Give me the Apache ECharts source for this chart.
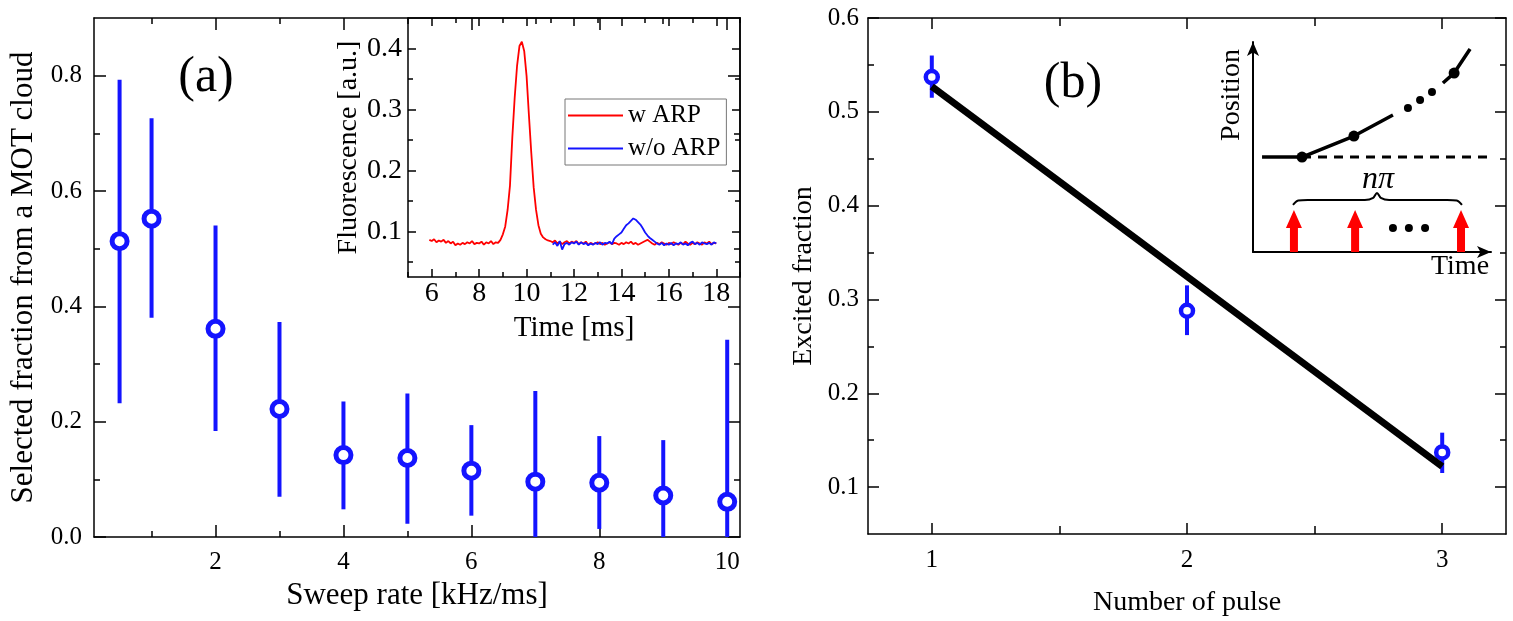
<!DOCTYPE html>
<html>
<head>
<meta charset="utf-8">
<script src="https://cdn.jsdelivr.net/npm/echarts@6/dist/echarts.min.js"></script>
<style>html,body{margin:0;background:#fff}#chart{width:1513px;height:621px}</style>
</head>
<body>
<div id="chart"></div>
<script>
const FONT = "'Liberation Serif', 'DejaVu Serif', serif";
const BLUE = '#1414ff';
const RED = '#ff0000';

// (a) selected fraction vs sweep rate
const sweepRate = [0.5, 1, 2, 3, 4, 5, 6, 7, 8, 9, 10];
const selFrac = [0.513, 0.552, 0.361, 0.222, 0.142, 0.137, 0.115, 0.096, 0.094, 0.072, 0.061];
const selLow = [0.232, 0.380, 0.184, 0.070, 0.048, 0.023, 0.037, 0, 0.014, 0, 0];
const selHigh = [0.793, 0.726, 0.540, 0.373, 0.235, 0.249, 0.194, 0.253, 0.175, 0.168, 0.342];
const sweepTicks = [2, 4, 6, 8, 10];
const sweepMinor = [1, 3, 5, 7, 9];
const fracTicks = [0, 0.2, 0.4, 0.6, 0.8];
const fracMinor = [0.1, 0.3, 0.5, 0.7];

// (a) inset: fluorescence traces, sampled every 0.1 ms
const dt = 0.1;
const wARPStart = 5.9;
const wARP = [
  0.086, 0.084, 0.087, 0.082, 0.085, 0.083, 0.086, 0.081, 0.084, 0.080, 0.083,
  0.077, 0.080, 0.078, 0.081, 0.079, 0.082, 0.080, 0.084, 0.079, 0.081,
  0.080, 0.083, 0.078, 0.082, 0.080, 0.084, 0.079, 0.082, 0.081, 0.086,
  0.095, 0.108, 0.135, 0.175, 0.255, 0.320, 0.372, 0.404, 0.411, 0.396,
  0.355, 0.290, 0.228, 0.172, 0.135, 0.110, 0.096, 0.090, 0.087, 0.085,
  0.084, 0.082, 0.085, 0.080, 0.083, 0.079, 0.082, 0.084, 0.080, 0.083,
  0.081, 0.084, 0.079, 0.082, 0.080, 0.083, 0.078, 0.081, 0.079, 0.080,
  0.082, 0.079, 0.081, 0.078, 0.080, 0.082, 0.079, 0.081, 0.080, 0.078,
  0.081, 0.079, 0.082, 0.080, 0.083, 0.079, 0.081, 0.078, 0.080, 0.082,
  0.084, 0.086, 0.083, 0.080, 0.078, 0.081, 0.079, 0.082, 0.080, 0.078,
  0.081, 0.079, 0.082, 0.080, 0.078, 0.081, 0.079, 0.083, 0.080, 0.078,
  0.081, 0.079, 0.082, 0.080, 0.078, 0.082, 0.080, 0.083, 0.079, 0.081,
  0.080,
];
const woARPStart = 11.1;
const woARP = [
  0.078, 0.082, 0.076, 0.084, 0.070, 0.079, 0.081, 0.078, 0.082,
  0.080, 0.083, 0.078, 0.082, 0.079, 0.081, 0.077, 0.080, 0.078, 0.081,
  0.079, 0.082, 0.078, 0.081, 0.080, 0.083, 0.079, 0.088, 0.092, 0.095,
  0.098, 0.104, 0.110, 0.113, 0.117, 0.121, 0.119, 0.115, 0.111, 0.105,
  0.098, 0.093, 0.089, 0.086, 0.083, 0.080, 0.078, 0.081, 0.077, 0.080,
  0.078, 0.081, 0.077, 0.080, 0.079, 0.082, 0.078, 0.080, 0.077, 0.081,
  0.083, 0.079, 0.081, 0.078, 0.082, 0.080, 0.079, 0.081, 0.078, 0.082,
  0.080,
];
const timeTicks = [6, 8, 10, 12, 14, 16, 18];
const timeMinor = [5, 7, 9, 11, 13, 15, 17, 19];
const fluoTicks = [0.1, 0.2, 0.3, 0.4];
const fluoMinor = [0.05, 0.15, 0.25, 0.35];

// (b) excited fraction vs number of pulses
const pulseN = [1, 2, 3];
const excFrac = [0.537, 0.288, 0.137];
const excLow = [0.515, 0.262, 0.115];
const excHigh = [0.560, 0.315, 0.158];
const fitN = [1, 3];
const fitFrac = [0.527, 0.122];
const pulseTicks = [1, 2, 3];
const pulseMinor = [1.5, 2.5];
const excTicks = [0.1, 0.2, 0.3, 0.4, 0.5, 0.6];
const excMinor = [0.15, 0.25, 0.35, 0.45, 0.55];

// (b) inset sketch, arbitrary units 0..10
const sketchFlat = [[0.38, 4.52], [2.06, 4.52]];
const sketchDash = [[2.06, 4.52], [10.4, 4.52]];
const sketchRise1 = [[2.06, 4.52], [4.24, 5.52], [5.88, 6.52]];
const sketchRise2 = [[7.98, 8.05], [8.45, 8.52], [9.12, 9.67]];
const sketchDots = [[2.06, 4.52], [4.24, 5.52], [8.45, 8.52]];
const sketchGap = [[6.51, 6.86], [7.02, 7.24], [7.52, 7.62]];
const sketchBrace = [[1.68, 2.24], [1.9, 2.45], [2.3, 2.48], [4.7, 2.48], [5.05, 2.58], [5.21, 2.81],
  [5.37, 2.58], [5.72, 2.48], [8.16, 2.48], [8.56, 2.45], [8.78, 2.24]];
const pulseArrowX = [1.72, 4.29, 8.74];
const pulseGap = [[5.88, 1.14], [6.55, 1.14], [7.23, 1.14]];

const chart = echarts.init(document.getElementById('chart'));

// axis box with inward major/minor ticks on all four sides
function boxAxes(dim, grid, min, max, major, minor, o) {
  const sides = dim === 'x' ? ['bottom', 'top'] : ['left', 'right'];
  const stroke = { color: '#000', width: 1.5 };
  const common = { type: 'value', gridIndex: grid, min, max, splitLine: { show: false } };
  const ticks = (vals, len) => ({ show: true, inside: true, length: len, customValues: vals, lineStyle: stroke });
  return [
    {
      ...common, position: sides[0],
      axisLine: { show: true, onZero: false, lineStyle: stroke },
      axisTick: ticks(major, o.majLen),
      axisLabel: { show: true, customValues: major, margin: o.margin, formatter: o.fmt,
        fontFamily: FONT, fontSize: o.size, color: '#000' },
      name: o.name, nameLocation: 'middle', nameGap: o.nameGap, nameRotate: dim === 'y' ? 90 : 0,
      nameTextStyle: { fontFamily: FONT, fontSize: o.nameSize, color: '#000' },
    },
    { ...common, position: sides[0], axisLine: { show: false, onZero: false }, axisTick: ticks(minor, o.minLen), axisLabel: { show: false } },
    { ...common, position: sides[1], axisLine: { show: true, onZero: false, lineStyle: stroke }, axisTick: ticks(major, o.majLen), axisLabel: { show: false } },
    { ...common, position: sides[1], axisLine: { show: false, onZero: false }, axisTick: ticks(minor, o.minLen), axisLabel: { show: false } },
  ];
}

function errBar(w) {
  return (params, api) => {
    const x = api.value(0);
    const a = api.coord([x, api.value(1)]);
    const b = api.coord([x, api.value(2)]);
    return { type: 'line', shape: { x1: a[0], y1: a[1], x2: b[0], y2: b[1] }, style: { stroke: BLUE, lineWidth: w } };
  };
}

const int = (v) => String(v);
const one = (v) => v.toFixed(1);

const sketchAxis = (dim) => ({
  type: 'value', gridIndex: 3, min: 0, max: 10, position: dim === 'x' ? 'bottom' : 'left',
  splitLine: { show: false }, axisTick: { show: false }, axisLabel: { show: false },
  axisLine: { show: true, onZero: false, symbol: ['none', 'arrow'], symbolSize: [9, 14], lineStyle: { color: '#000', width: 2 } },
});

const xAxis = [
  ...boxAxes('x', 0, 0.1, 10.2, sweepTicks, sweepMinor, { majLen: 12, minLen: 6, margin: 13, fmt: int, size: 25, name: 'Sweep rate [kHz/ms]', nameGap: 42, nameSize: 31 }),
  ...boxAxes('x', 1, 5, 19, timeTicks, timeMinor, { majLen: 8, minLen: 5, margin: 3, fmt: int, size: 28, name: 'Time [ms]', nameGap: 37, nameSize: 29 }),
  ...boxAxes('x', 2, 0.75, 3.25, pulseTicks, pulseMinor, { majLen: 11, minLen: 8, margin: 14, fmt: int, size: 25, name: 'Number of pulse', nameGap: 55, nameSize: 28 }),
  sketchAxis('x'),
];
const yAxis = [
  ...boxAxes('y', 0, 0, 0.9, fracTicks, fracMinor, { majLen: 12, minLen: 6, margin: 12, fmt: one, size: 25, name: 'Selected fraction from a MOT cloud', nameGap: 55, nameSize: 31 }),
  ...boxAxes('y', 1, 0.025, 0.45, fluoTicks, fluoMinor, { majLen: 8, minLen: 5, margin: 6, fmt: one, size: 28, name: 'Fluorescence [a.u.]', nameGap: 45, nameSize: 28 }),
  ...boxAxes('y', 2, 0.05, 0.6, excTicks, excMinor, { majLen: 11, minLen: 6, margin: 9, fmt: one, size: 25, name: 'Excited fraction', nameGap: 50, nameSize: 28 }),
  sketchAxis('y'),
];

const sketchLine = (data, extra) => ({
  type: 'line', xAxisIndex: 12, yAxisIndex: 12, data, symbol: 'none', clip: false, silent: true,
  lineStyle: { color: '#000', width: 3.5, ...(extra || {}) },
});
const sketchDot = (data, size) => ({
  type: 'scatter', xAxisIndex: 12, yAxisIndex: 12, symbolSize: size, silent: true,
  itemStyle: { color: '#000', opacity: 1 }, data,
});

chart.setOption({
  animation: false,
  textStyle: { fontFamily: FONT },
  grid: [
    { left: 94, right: 773, top: 18, bottom: 84, outerBoundsMode: 'none' },
    { left: 408, right: 773, top: 18, bottom: 344, show: true, backgroundColor: '#fff', borderWidth: 0, outerBoundsMode: 'none' },
    { left: 868, right: 7, top: 18, bottom: 87, outerBoundsMode: 'none' },
    { left: 1253, right: 22, top: 42, bottom: 369, outerBoundsMode: 'none' },
  ],
  xAxis,
  yAxis,
  legend: {
    data: ['w ARP', 'w/o ARP'],
    orient: 'vertical', left: 565, top: 99,
    icon: 'rect', itemWidth: 55, itemHeight: 2, itemGap: 8,
    padding: [4, 6, 4, 3],
    borderColor: '#777', borderWidth: 1, backgroundColor: '#fff',
    textStyle: { fontFamily: FONT, fontSize: 25, color: '#000' },
  },
  series: [
    { type: 'custom', xAxisIndex: 0, yAxisIndex: 0, clip: true, renderItem: errBar(4),
      data: sweepRate.map((x, i) => [x, selLow[i], selHigh[i]]), encode: { x: 0, y: [1, 2] } },
    { type: 'scatter', xAxisIndex: 0, yAxisIndex: 0, symbol: 'circle', symbolSize: 15,
      itemStyle: { color: '#fff', borderColor: BLUE, borderWidth: 5, opacity: 1 },
      data: sweepRate.map((x, i) => [x, selFrac[i]]) },

    { name: 'w ARP', type: 'line', xAxisIndex: 4, yAxisIndex: 4, symbol: 'none',
      lineStyle: { color: RED, width: 1.8 }, itemStyle: { color: RED },
      data: wARP.map((v, i) => [wARPStart + i * dt, v]) },
    { name: 'w/o ARP', type: 'line', xAxisIndex: 4, yAxisIndex: 4, symbol: 'none',
      lineStyle: { color: BLUE, width: 1.8 }, itemStyle: { color: BLUE },
      data: woARP.map((v, i) => [woARPStart + i * dt, v]) },

    { type: 'custom', xAxisIndex: 8, yAxisIndex: 8, renderItem: errBar(4),
      data: pulseN.map((x, i) => [x, excLow[i], excHigh[i]]), encode: { x: 0, y: [1, 2] } },
    { type: 'line', xAxisIndex: 8, yAxisIndex: 8, symbol: 'none', lineStyle: { color: '#000', width: 7 },
      data: fitN.map((x, i) => [x, fitFrac[i]]) },
    { type: 'scatter', xAxisIndex: 8, yAxisIndex: 8, symbol: 'circle', symbolSize: 12,
      itemStyle: { color: '#fff', borderColor: BLUE, borderWidth: 4.5, opacity: 1 },
      data: pulseN.map((x, i) => [x, excFrac[i]]) },

    sketchLine(sketchFlat),
    sketchLine(sketchDash, { type: [9, 7], width: 3 }),
    sketchLine(sketchRise1),
    sketchLine(sketchRise2),
    { ...sketchLine(sketchBrace, { width: 2 }), smooth: 0.35 },
    sketchDot(sketchDots, 11),
    sketchDot(sketchGap.concat(pulseGap), 8),
    { type: 'scatter', xAxisIndex: 12, yAxisIndex: 12, clip: false, silent: true,
      symbol: 'path://M4,18 L4,42 L12,42 L12,18 L16,18 L8,0 L0,18 Z', symbolSize: [16, 42], symbolOffset: [0, '-50%'],
      itemStyle: { color: RED, opacity: 1 }, data: pulseArrowX.map((x) => [x, 0]) },
  ],
  graphic: [
    { type: 'text', x: 206, y: 78, style: { text: '(a)', fontFamily: FONT, fontSize: 50, fill: '#000', align: 'center', verticalAlign: 'middle' } },
    { type: 'text', x: 1073, y: 84, style: { text: '(b)', fontFamily: FONT, fontSize: 50, fill: '#000', align: 'center', verticalAlign: 'middle' } },
    { type: 'text', x: 1232, y: 95, rotation: Math.PI / 2, style: { text: 'Position', fontFamily: FONT, fontSize: 28, fill: '#000', align: 'center', verticalAlign: 'middle' } },
    { type: 'text', x: 1460, y: 267, style: { text: 'Time', fontFamily: FONT, fontSize: 28, fill: '#000', align: 'center', verticalAlign: 'middle' } },
    { type: 'text', x: 1378, y: 180, style: { text: 'nπ', fontFamily: FONT, fontStyle: 'italic', fontSize: 32, fill: '#000', align: 'center', verticalAlign: 'middle' } },
  ],
});
</script>
</body>
</html>
